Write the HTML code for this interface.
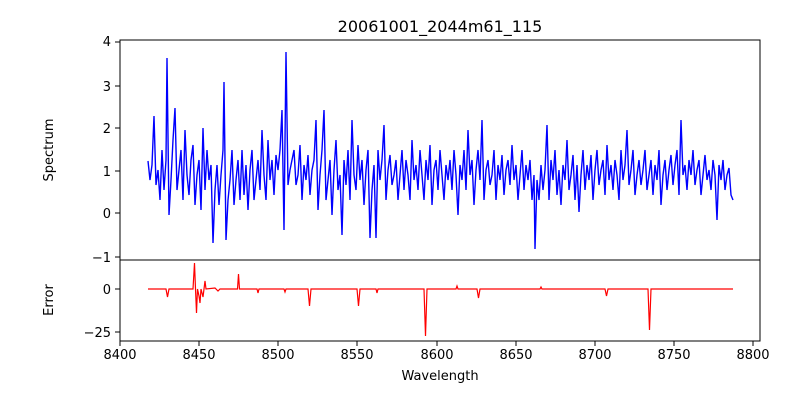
<!DOCTYPE html>
<html><head><meta charset="utf-8"><style>
body{margin:0;background:#fff;}
svg{display:block;font-family:"DejaVu Sans","Liberation Sans",sans-serif;}
</style></head><body>
<svg width="800" height="400" viewBox="0 0 800 400" xmlns="http://www.w3.org/2000/svg">
<rect width="800" height="400" fill="#fff"/>
<text x="440" y="32" font-size="16" text-anchor="middle">20061001_2044m61_115</text>
<polyline fill="none" stroke="#0000ff" stroke-width="1.4" points="148,161 150,180 152,165 154,116 156,185 158,170 160,200 162,150 164,190 166,160 167,58 169,215 171,180 173,140 175,108 177,190 179,170 181,150 183,200 185,130 187,175 189,195 191,160 193,145 195,205 197,175 199,160 201,210 203,128 205,190 207,150 209,180 211,165 213,243 215,190 217,165 219,205 221,175 223,150 224,82 226,240 228,200 230,180 232,150 234,205 236,180 238,160 240,200 242,150 244,195 246,165 248,210 250,170 252,150 254,200 256,180 258,160 260,190 262,130 264,175 266,200 268,140 270,180 272,160 274,195 276,155 278,170 280,150 282,110 284,230 286,52 288,185 290,170 292,160 294,150 296,185 298,175 300,145 302,200 304,165 306,180 308,155 310,195 312,170 314,160 316,120 318,210 320,175 322,150 324,110 326,200 328,180 330,160 332,215 334,170 336,140 338,190 340,175 342,235 344,160 346,185 348,150 350,200 352,120 354,175 356,190 358,145 360,180 362,160 364,205 366,170 368,150 370,238 372,190 374,165 376,238 378,150 380,180 382,160 384,125 386,200 388,170 390,155 392,185 394,175 396,160 398,200 400,175 402,150 404,190 406,160 408,175 410,200 412,140 414,180 416,165 418,190 420,150 422,175 424,200 426,160 428,180 430,145 432,205 434,170 436,160 438,190 440,150 442,175 444,200 446,165 448,180 450,160 452,190 454,150 456,175 458,215 460,165 462,180 464,150 466,190 468,130 470,175 472,160 474,205 476,170 478,150 480,180 482,120 484,200 486,170 488,160 490,185 492,175 494,150 496,200 498,165 500,180 502,155 504,195 506,170 508,160 510,185 512,145 514,180 516,165 518,200 520,175 522,150 524,190 526,165 528,180 530,160 532,200 534,175 535,249 537,180 539,200 541,165 543,190 545,170 547,125 549,200 551,160 553,180 555,150 557,195 559,170 561,205 563,165 565,180 567,140 569,190 571,175 573,155 575,200 577,165 579,212 581,175 583,150 585,190 587,165 589,180 591,155 593,200 595,170 597,150 599,185 601,170 603,160 605,195 607,145 609,180 611,165 613,190 615,160 617,175 619,200 621,150 623,180 625,165 627,130 629,185 631,170 633,150 635,195 637,175 639,160 641,185 643,170 645,150 647,190 649,175 651,160 653,195 655,165 657,180 659,150 661,205 663,175 665,160 667,190 669,170 671,155 673,185 675,165 677,150 679,195 681,120 683,175 685,165 687,190 689,160 691,175 693,150 695,185 697,170 699,160 701,195 703,175 705,155 707,180 709,170 711,190 713,160 715,175 717,220 719,165 721,180 723,160 725,190 727,175 729,168 731,195 733,200"/>
<polyline fill="none" stroke="#ff0000" stroke-width="1.2" points="148,289 166,289 167.5,297 169,289 193,289 194.5,263 195.5,289 196.5,313 197.5,289 199,296 200,303 201,289 203,297 204,289 205,281 206,289 215,288 218,291 220,289 237.5,289 238.5,274 239.5,289 257,289 258,293 259,289 284,289 285,292 286,289 308,289 309.5,306 311,289 357,289 358.5,306 360,289 376,289 377,293 378,289 424,289 425.5,336 427,289 456,289 457,286 458,289 477,289 478.5,298 480,289 540,289 541,287 542,289 605,289 606.5,296 608,289 648,289 649.5,330 651,289 733,289"/>
<rect x="120" y="40" width="640" height="220" fill="none" stroke="#000" stroke-width="1"/>
<rect x="120" y="260" width="640" height="81" fill="none" stroke="#000" stroke-width="1"/>
<g font-size="13" text-anchor="end">
<text x="111" y="46">4</text><text x="111" y="91">3</text><text x="111" y="133">2</text>
<text x="111" y="176">1</text><text x="111" y="218">0</text><text x="111" y="262">−1</text>
<text x="111" y="294">0</text><text x="111" y="337">−25</text>
</g>
<g stroke="#000"><line x1="115" x2="120" y1="42" y2="42"/><line x1="115" x2="120" y1="86" y2="86"/><line x1="115" x2="120" y1="128" y2="128"/><line x1="115" x2="120" y1="171" y2="171"/><line x1="115" x2="120" y1="213" y2="213"/><line x1="115" x2="120" y1="257" y2="257"/><line x1="115" x2="120" y1="289" y2="289"/><line x1="115" x2="120" y1="332" y2="332"/>
<line x1="120" x2="120" y1="341" y2="346"/><line x1="199" x2="199" y1="341" y2="346"/><line x1="278" x2="278" y1="341" y2="346"/><line x1="357" x2="357" y1="341" y2="346"/><line x1="437" x2="437" y1="341" y2="346"/><line x1="516" x2="516" y1="341" y2="346"/><line x1="595" x2="595" y1="341" y2="346"/><line x1="674" x2="674" y1="341" y2="346"/><line x1="753" x2="753" y1="341" y2="346"/></g>
<g font-size="13" text-anchor="middle">
<text x="120" y="359">8400</text><text x="199" y="359">8450</text><text x="278" y="359">8500</text><text x="357" y="359">8550</text><text x="437" y="359">8600</text><text x="516" y="359">8650</text><text x="595" y="359">8700</text><text x="674" y="359">8750</text><text x="753" y="359">8800</text>
</g>
<text x="440" y="380" font-size="13" text-anchor="middle">Wavelength</text>
<text transform="translate(53,150) rotate(-90)" font-size="13" text-anchor="middle">Spectrum</text>
<text transform="translate(53,300) rotate(-90)" font-size="13" text-anchor="middle">Error</text>
</svg>
</body></html>
